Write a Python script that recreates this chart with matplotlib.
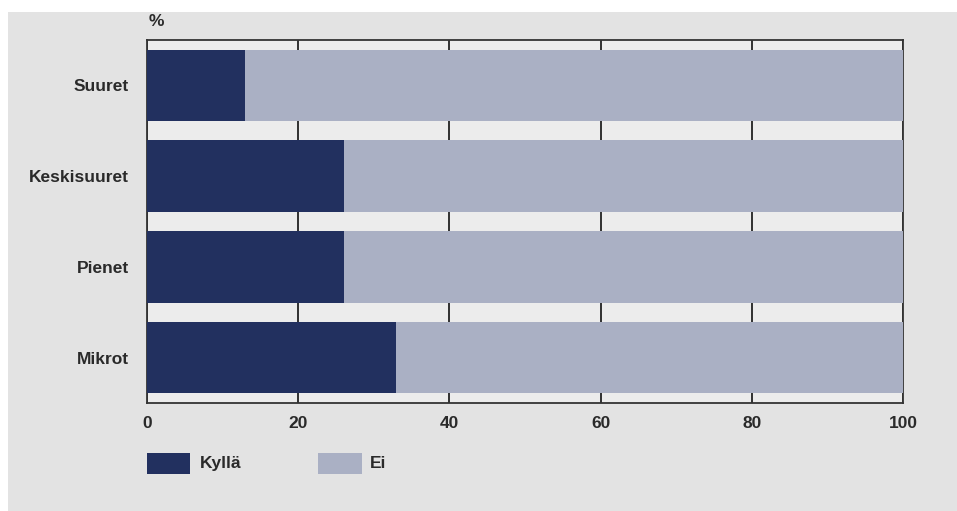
import matplotlib.pyplot as plt
from matplotlib.patches import Rectangle

plt.rcParams['font.family'] = ['Liberation Sans', 'DejaVu Sans']
plt.rcParams['font.weight'] = 'bold'

# Data
kategoriat = ['Suuret', 'Keskisuuret', 'Pienet', 'Mikrot']
kylla = [13, 26, 26, 33]
ei = [87, 74, 74, 67]
x_ticks = [0, 20, 40, 60, 80, 100]

tumma = '#22305f'
vaalea = '#aab0c4'
teksti = '#2a2a2a'
koko = 12.5

fig = plt.figure(figsize=(9.57, 5.11), dpi=100)
fig.patch.set_facecolor('white')
# gray background panel (white strip at top and left)
fig.add_artist(Rectangle((8 / 957, 0), 1, 1 - 12 / 511, transform=fig.transFigure,
                         facecolor='#e3e3e3', edgecolor='none', zorder=-10))

ax = fig.add_axes([147 / 957, 1 - 403 / 511, (903 - 147) / 957, (403 - 40) / 511])
ax.set_facecolor('#ececec')

pos = list(range(len(kategoriat)))
ax.barh(pos, kylla, height=0.79, color=tumma, zorder=3)
ax.barh(pos, ei, left=kylla, height=0.79, color=vaalea, zorder=3)

ax.set_xlim(0, 100)
ax.set_ylim(3.5, -0.5)
ax.set_xticks(x_ticks)
ax.set_yticks(pos)
ax.set_yticklabels(kategoriat, fontsize=koko, color=teksti)
ax.tick_params(axis='y', length=0, pad=13)
ax.tick_params(axis='x', length=0, pad=9, labelsize=koko, labelcolor=teksti)

ax.grid(axis='x', color='#222222', linewidth=1.3, zorder=1)
for s in ax.spines.values():
    s.set_color('#333333')
    s.set_linewidth(1.3)

fig.text(149 / 957, 1 - 21 / 511, '%', fontsize=koko, color=teksti,
         va='center', ha='left')

# legend
fig.add_artist(Rectangle((147 / 957, 1 - 474 / 511), 43 / 957, 21 / 511,
                         transform=fig.transFigure, facecolor=tumma, edgecolor='none'))
fig.text(200 / 957, 1 - 463 / 511, 'Kyllä', fontsize=koko, color=teksti, va='center')
fig.add_artist(Rectangle((318 / 957, 1 - 474 / 511), 44 / 957, 21 / 511,
                         transform=fig.transFigure, facecolor=vaalea, edgecolor='none'))
fig.text(370 / 957, 1 - 463 / 511, 'Ei', fontsize=koko, color=teksti, va='center')

fig.savefig('out.png', dpi=100, facecolor=fig.get_facecolor())
